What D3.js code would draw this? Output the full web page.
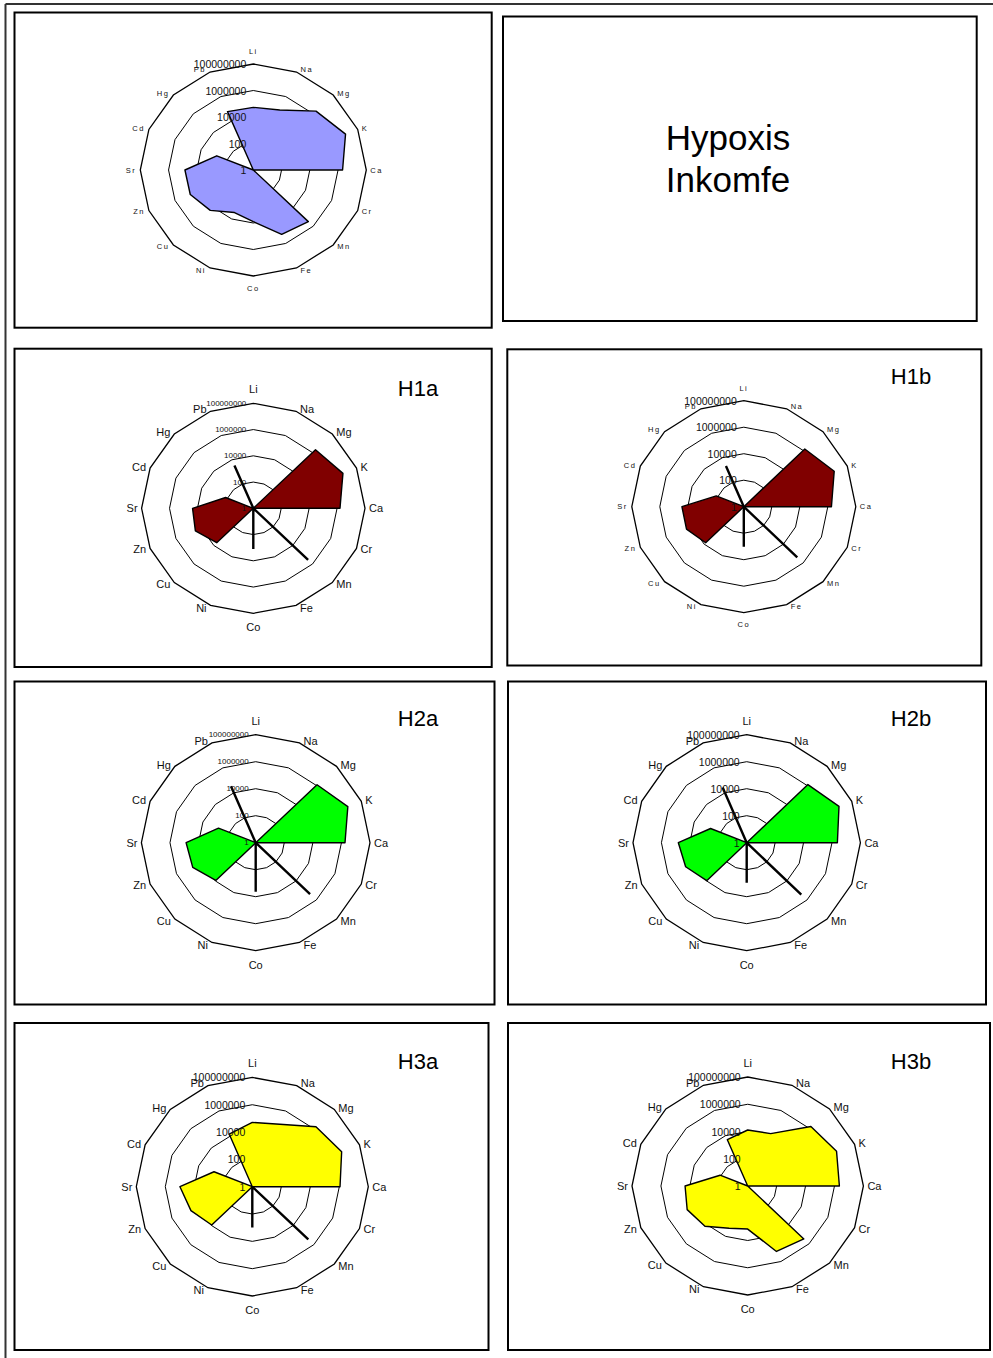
<!DOCTYPE html>
<html>
<head>
<meta charset="utf-8">
<script src="https://cdn.jsdelivr.net/npm/d3@7"></script>
<style>
  html, body { margin: 0; padding: 0; background: #fff; }
  svg { display: block; }
  text { font-family: "Liberation Sans", Arial, sans-serif; fill: #111; }
</style>
</head>
<body>
<script>
// Element axes, clockwise from the top
const elements = ["Li", "Na", "Mg", "K", "Ca", "Cr", "Mn", "Fe", "Co", "Ni", "Cu", "Zn", "Sr", "Cd", "Hg", "Pb"];

// Logarithmic ring values and their labels
const ringValues = [1, 100, 10000, 1000000, 100000000];
const ringLabels = ["1", "100", "10000", "1000000", "100000000"];

// Concentrations per element (same order as `elements`); 0 = not detected
const inkomfeValues = [53700, 79400, 1900000, 11700000, 2090000, 0, 324000, 178000, 7900, 3000, 20400, 67600, 69200, 630, 0, 58900];
const h1aValues = [0, 0, 2000000, 8900000, 1620000, 0, 0, 0, 0, 0, 5100, 30900, 22400, 141, 0, 0];
const h1bValues = [0, 0, 1450000, 9770000, 1820000, 0, 0, 0, 0, 0, 7080, 26900, 26300, 135, 0, 0];
const h2aValues = [0, 0, 1175000, 9550000, 1780000, 0, 0, 0, 0, 0, 8900, 58900, 74100, 660, 0, 0];
const h2bValues = [0, 0, 1230000, 10700000, 2400000, 0, 0, 0, 0, 0, 9550, 44700, 64600, 562, 0, 0];
const h3aValues = [51300, 89100, 1620000, 4680000, 1120000, 0, 0, 0, 0, 0, 9120, 38000, 97700, 724, 0, 14800];
const h3bValues = [12900, 14500, 1510000, 4470000, 2190000, 0, 309000, 158000, 1450, 2290, 15100, 33900, 21400, 117, 0, 4790];

// Second (line) series: Mn, Co and Pb only
const h1aLine = [0, 0, 0, 0, 0, 0, 355000, 0, 1260, 0, 0, 0, 0, 0, 0, 3390];
const h1bLine = [0, 0, 0, 0, 0, 0, 251000, 0, 1070, 0, 0, 0, 0, 0, 0, 2140];
const h2aLine = [0, 0, 0, 0, 0, 0, 240000, 0, 4270, 0, 0, 0, 0, 0, 0, 33100];
const h2bLine = [0, 0, 0, 0, 0, 0, 269000, 0, 912, 0, 0, 0, 0, 0, 0, 26300];
const h3aLine = [0, 0, 0, 0, 0, 0, 288000, 0, 955, 0, 0, 0, 0, 0, 0, 0];

const W = 993, H = 1358;

// Layout of the panels
const panels = [
  { values: inkomfeValues, line: null, fill: "#9999FF", box: [14.5, 12.5, 491.7, 327.7],
    cx: 253.3, cy: 170, rx: 113, ry: 106, labelSize: 7.5, labelSpacing: 1.5, tickSize: 10.5 },
  { values: h1aValues, line: h1aLine, fill: "#800000", box: [14.5, 348.7, 491.7, 667],
    cx: 253.3, cy: 508.3, rx: 111.7, ry: 105, labelSize: 11, labelSpacing: 0, tickSize: 8,
    title: "H1a", tx: 418, ty: 388 },
  { values: h1bValues, line: h1bLine, fill: "#800000", box: [507.3, 349.3, 981.3, 665.5],
    cx: 743.8, cy: 506.7, rx: 112, ry: 106, labelSize: 7.5, labelSpacing: 1.5, tickSize: 10.5,
    title: "H1b", tx: 911, ty: 376 },
  { values: h2aValues, line: h2aLine, fill: "#00FF00", box: [14.5, 681.5, 494.5, 1004.5],
    cx: 255.7, cy: 842.7, rx: 114.3, ry: 108, labelSize: 11, labelSpacing: 0, tickSize: 8,
    title: "H2a", tx: 418, ty: 718 },
  { values: h2bValues, line: h2bLine, fill: "#00FF00", box: [508, 681.5, 986, 1004.5],
    cx: 746.7, cy: 842.7, rx: 113.7, ry: 108, labelSize: 11, labelSpacing: 0, tickSize: 10.5,
    title: "H2b", tx: 911, ty: 718 },
  { values: h3aValues, line: h3aLine, fill: "#FFFF00", box: [14.5, 1023, 488.5, 1350],
    cx: 252.3, cy: 1186.7, rx: 116, ry: 109.3, labelSize: 11, labelSpacing: 0, tickSize: 10.5,
    title: "H3a", tx: 418, ty: 1061 },
  { values: h3bValues, line: null, fill: "#FFFF00", box: [508, 1023, 990, 1350],
    cx: 747.7, cy: 1186, rx: 115.7, ry: 109, labelSize: 11, labelSpacing: 0, tickSize: 10.5,
    title: "H3b", tx: 911, ty: 1061 }
];

const svg = d3.select("body").append("svg")
  .attr("width", W).attr("height", H)
  .attr("viewBox", `0 0 ${W} ${H}`);

// Page frame (top and left edges)
svg.append("line").attr("x1", 5.5).attr("y1", 4).attr("x2", W).attr("y2", 4)
  .attr("stroke", "#333").attr("stroke-width", 2);
svg.append("line").attr("x1", 5.5).attr("y1", 4).attr("x2", 5.5).attr("y2", H)
  .attr("stroke", "#333").attr("stroke-width", 2);

// Title box
svg.append("rect").attr("x", 503).attr("y", 16.5).attr("width", 976.7 - 503).attr("height", 321 - 16.5)
  .attr("fill", "#fff").attr("stroke", "#000").attr("stroke-width", 2);
const titleText = svg.append("text").attr("text-anchor", "middle")
  .style("font-size", "35px").style("fill", "#000");
titleText.append("tspan").attr("x", 728).attr("y", 150).text("Hypoxis");
titleText.append("tspan").attr("x", 728).attr("y", 192).text("Inkomfe");

const n = elements.length;
const angle = d3.scaleLinear().domain([0, n]).range([0, 2 * Math.PI]);
const radius = d3.scaleLog().domain([ringValues[0], ringValues[ringValues.length - 1]])
  .range([0, 1]).clamp(true);

function drawPanel(p) {
  const g = svg.append("g");
  const [x1, y1, x2, y2] = p.box;
  g.append("rect").attr("x", x1).attr("y", y1).attr("width", x2 - x1).attr("height", y2 - y1)
    .attr("fill", "#fff").attr("stroke", "#000").attr("stroke-width", 2);

  const pt = (v, i) => {
    const a = angle(i), r = radius(v);
    return [p.cx + r * p.rx * Math.sin(a), p.cy - r * p.ry * Math.cos(a)];
  };
  const closed = d3.line().curve(d3.curveLinearClosed);

  // Polygonal rings
  ringValues.slice(1).forEach((rv, k, arr) => {
    g.append("path")
      .attr("d", closed(elements.map((_, i) => pt(rv, i))))
      .attr("fill", "none").attr("stroke", "#000")
      .attr("stroke-width", k === arr.length - 1 ? 1.3 : 1);
  });

  // Line series (spikes from the centre)
  if (p.line) {
    g.append("path")
      .attr("d", closed(p.line.map((v, i) => pt(v, i))))
      .attr("fill", "none").attr("stroke", "#000").attr("stroke-width", 2.4)
      .attr("stroke-linejoin", "miter");
  }

  // Filled series
  g.append("path")
    .attr("d", closed(p.values.map((v, i) => pt(v, i))))
    .attr("fill", p.fill).attr("stroke", "#000").attr("stroke-width", 1.4)
    .attr("stroke-linejoin", "round");

  // Axis (element) labels
  elements.forEach((name, i) => {
    const a = angle(i), s = Math.sin(a), c = Math.cos(a);
    const [vx, vy] = pt(ringValues[ringValues.length - 1], i);
    let x, y, anchor;
    if (Math.abs(s) < 0.01) {
      anchor = "middle"; x = vx; y = vy - c * (8.5 + p.labelSize * 0.5);
    } else {
      anchor = s > 0 ? "start" : "end";
      x = vx + (s > 0 ? 4 : -4); y = vy - c * 2.5;
    }
    g.append("text")
      .attr("x", x).attr("y", y)
      .attr("text-anchor", anchor).attr("dominant-baseline", "central")
      .style("font-size", p.labelSize + "px")
      .style("letter-spacing", p.labelSpacing + "px")
      .text(name);
  });

  // Ring value labels along the top axis
  ringValues.forEach((rv, k) => {
    const [, ty] = pt(rv, 0);
    g.append("text")
      .attr("x", p.cx - 7).attr("y", ty)
      .attr("text-anchor", "end").attr("dominant-baseline", "central")
      .style("font-size", p.tickSize + "px")
      .text(ringLabels[k]);
  });

  if (p.title) {
    g.append("text").attr("x", p.tx).attr("y", p.ty)
      .attr("text-anchor", "middle").attr("dominant-baseline", "central")
      .style("font-size", "22px").style("fill", "#000")
      .text(p.title);
  }
}

panels.forEach(drawPanel);
</script>
</body>
</html>
